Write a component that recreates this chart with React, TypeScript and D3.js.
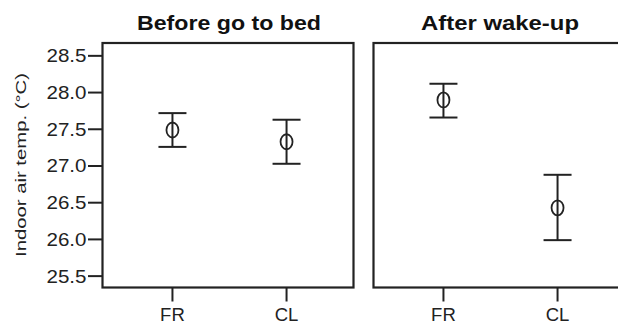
import { scaleLinear, scalePoint } from "d3";

const categories = ["FR", "CL"];
const panelTitles = ["Before go to bed", "After wake-up"];
const meanBefore = [27.49, 27.33];
const lowBefore = [27.26, 27.03];
const highBefore = [27.72, 27.63];
const meanAfter = [27.9, 26.43];
const lowAfter = [27.66, 25.99];
const highAfter = [28.12, 26.88];
const yTicks = [25.5, 26.0, 26.5, 27.0, 27.5, 28.0, 28.5];
const yLabel = "Indoor air temp. (°C)";

const width = 618;
const height = 325;
const TOP = 43;
const BOTTOM = 287.5;
const PANEL_W = 251;
const panelLefts = [102.5, 373.5];
const INK = "#222";
const FONT = "'Liberation Sans', Arial, sans-serif";

const panelData = [
  { mean: meanBefore, low: lowBefore, high: highBefore },
  { mean: meanAfter, low: lowAfter, high: highAfter },
];

export default function App() {
  const yScale = scaleLinear().domain([25.345, 28.675]).range([BOTTOM, TOP]);
  const xScale = scalePoint<string>()
    .domain(categories)
    .range([1.5, PANEL_W + 1.5])
    .padding(0.6);

  const yAxis = yTicks.map((t, i) => (
    <g key={i}>
      <line x1={88} x2={panelLefts[0]} y1={yScale(t)} y2={yScale(t)} stroke={INK} strokeWidth={2} />
      <text
        x={86.5}
        y={yScale(t)}
        textAnchor="end"
        dominantBaseline="central"
        fontSize={18.5}
        textLength={40}
        lengthAdjust="spacingAndGlyphs"
        fill={INK}
      >
        {t.toFixed(1)}
      </text>
    </g>
  ));

  const panels = panelData.map((d, p) => {
    const left = panelLefts[p];
    return (
      <g key={p} transform={`translate(${left},0)`}>
        <text
          x={PANEL_W / 2 + 1}
          y={30}
          textAnchor="middle"
          fontSize={20}
          fontWeight="bold"
          textLength={p === 0 ? 184 : 158}
          lengthAdjust="spacingAndGlyphs"
          fill="#111"
        >
          {panelTitles[p]}
        </text>
        <rect x={0} y={TOP} width={PANEL_W} height={BOTTOM - TOP} fill="none" stroke={INK} strokeWidth={2.2} />
        {categories.map((c, i) => {
          const cx = xScale(c) ?? 0;
          return (
            <g key={c}>
              <line x1={cx} x2={cx} y1={BOTTOM} y2={BOTTOM + 14} stroke={INK} strokeWidth={2} />
              <text x={cx} y={320.5} textAnchor="middle" fontSize={18.5} fill={INK}>
                {c}
              </text>
              <line x1={cx} x2={cx} y1={yScale(d.high[i])} y2={yScale(d.low[i])} stroke={INK} strokeWidth={2} />
              <line x1={cx - 14} x2={cx + 14} y1={yScale(d.high[i])} y2={yScale(d.high[i])} stroke={INK} strokeWidth={2} />
              <line x1={cx - 14} x2={cx + 14} y1={yScale(d.low[i])} y2={yScale(d.low[i])} stroke={INK} strokeWidth={2} />
              <ellipse cx={cx} cy={yScale(d.mean[i])} rx={6} ry={7.5} fill="none" stroke={INK} strokeWidth={1.8} />
            </g>
          );
        })}
      </g>
    );
  });

  return (
    <svg
      width={width}
      height={height}
      viewBox={`0 0 ${width} ${height}`}
      style={{ position: "absolute", left: 0, top: 0, background: "#fff" }}
      fontFamily={FONT}
    >
      <rect width={width} height={height} fill="#fff" />
      <text
        transform="translate(26,165) rotate(-90)"
        textAnchor="middle"
        fontSize={15.5}
        textLength={184}
        lengthAdjust="spacingAndGlyphs"
        fill={INK}
      >
        {yLabel}
      </text>
      {yAxis}
      {panels}
    </svg>
  );
}
